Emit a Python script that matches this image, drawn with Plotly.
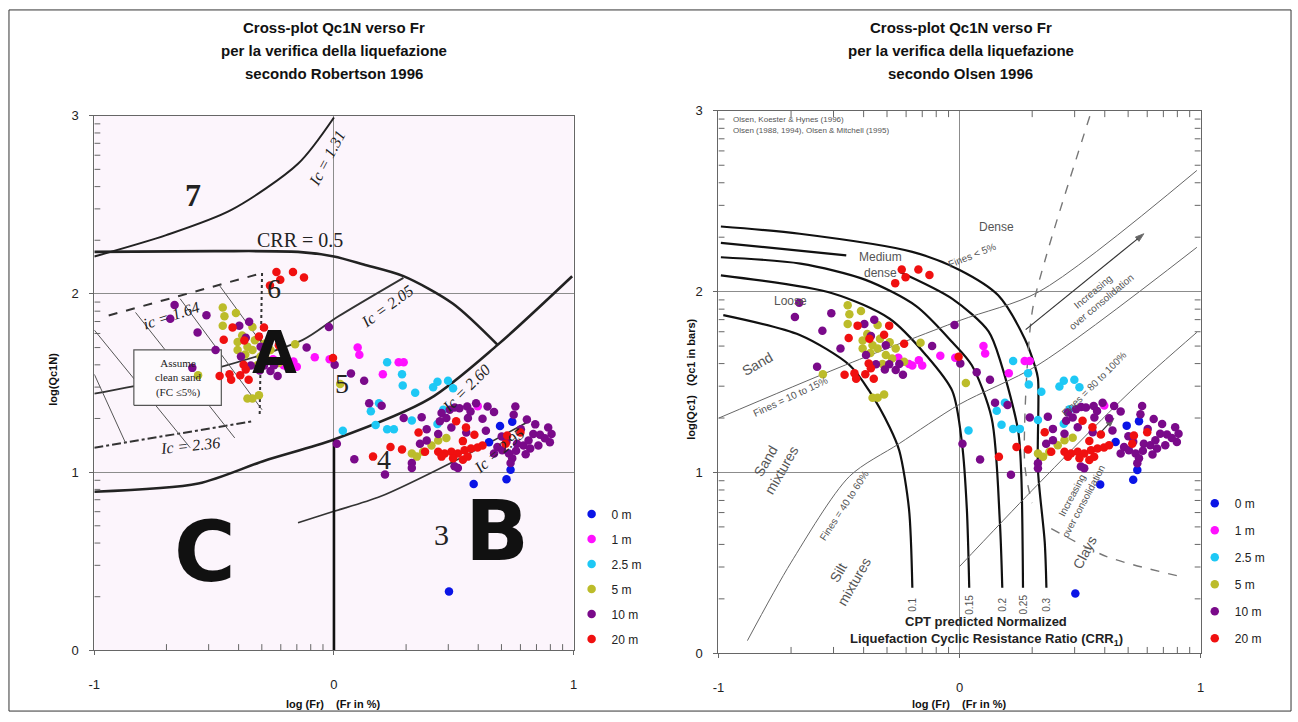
import math
import plotly.graph_objects as go

# ---------------- data (log Fr, log Qc1N) ----------------
series_names = ["0 m", "1 m", "2.5 m", "5 m", "10 m", "20 m"]
series_colors = ["#0a14e6", "#ff10ff", "#1ec8f5", "#bcbc2a", "#7a0a8a", "#f01010"]

x_0m = [0.48, 0.744, 0.693, 0.647, 0.737, 0.720, 0.583]
y_0m = [0.33, 1.283, 1.259, 1.168, 1.014, 0.960, 0.933]

x_1m = [-0.254, -0.196, -0.169, -0.155, -0.21, -0.080, -0.018, 0.099, 0.106, 0.270, 0.291, 0.204, 0.600]
y_1m = [1.634, 1.591, 1.621, 1.591, 1.600, 1.645, 1.634, 1.699, 1.658, 1.616, 1.616, 1.549, 1.370]

x_25m = [0.222, 0.284, 0.287, 0.339, 0.432, 0.414, 0.476, 0.497, 0.154, 0.188, 0.174, 0.222, 0.250,
         0.037, 0.325, 0.456, 0.432]
y_25m = [1.616, 1.549, 1.486, 1.446, 1.507, 1.476, 1.513, 1.471, 1.341, 1.386, 1.264, 1.241, 1.241,
         1.232, 1.290, 1.350, 1.270]

x_5m = [-0.464, -0.409, -0.457, -0.464, -0.340, -0.383, -0.402, -0.361, -0.340, -0.402, -0.306, -0.265,
        -0.230, -0.162, -0.567, -0.361, -0.313, -0.340, 0.026, 0.325, 0.346, 0.372, 0.435, 0.469, 0.407,
        -0.33, -0.29, -0.37, -0.28, -0.32]
y_5m = [1.924, 1.893, 1.875, 1.821, 1.815, 1.766, 1.730, 1.703, 1.685, 1.685, 1.649, 1.685,
        1.612, 1.717, 1.543, 1.413, 1.431, 1.413, 1.495, 1.105, 1.087, 1.114, 1.178, 1.192, 1.150,
        1.74, 1.72, 1.66, 1.63, 1.60]

x_10m = [-0.665, -0.683, -0.532, -0.569, -0.494, -0.591, -0.395, -0.354, -0.368, -0.306, -0.388, -0.347,
         -0.292, -0.265, -0.235, -0.114, -0.021, 0.003, 0.071, -0.31, -0.25,
         0.126, 0.147, 0.199, 0.291, 0.012, 0.085, 0.213, 0.366, 0.387, 0.442, 0.435, 0.483, 0.504,
         0.524, 0.556, 0.593, 0.559, 0.490, 0.359, 0.387, 0.641, 0.668, 0.757, 0.750, 0.634, 0.805,
         0.840, 0.832, 0.894, 0.908, 0.901, 0.764, 0.791, 0.812, 0.819, 0.853, 0.682, 0.702, 0.730,
         0.744, 0.737, 0.668, 0.503, 0.517, 0.325, 0.325, 0.449, 0.469, 0.552,
         0.78, 0.86, 0.70, 0.62, 0.57, 0.72, 0.80, 0.76, 0.88]
y_10m = [1.938, 1.860, 1.880, 1.784, 1.685, 1.585, 1.821, 1.844, 1.754, 1.703, 1.649, 1.598,
         1.598, 1.567, 1.540, 1.699, 1.815, 1.603, 1.554, 1.57, 1.60,
         1.513, 1.386, 1.373, 1.304, 1.159, 1.072, 0.987, 1.308, 1.241, 1.286, 1.214, 1.350, 1.362,
         1.359, 1.368, 1.386, 1.304, 1.250, 1.159, 1.178, 1.368, 1.337, 1.368, 1.322, 1.232, 1.295,
         1.268, 1.214, 1.250, 1.214, 1.168, 1.159, 1.150, 1.178, 1.132, 1.150, 1.141, 1.123, 1.105,
         1.078, 1.051, 1.105, 1.033, 1.023, 1.051, 1.023, 1.332, 1.304, 1.223,
         1.24, 1.21, 1.20, 1.30, 1.34, 1.17, 1.10, 1.12, 1.19]

x_20m = [-0.240, -0.171, -0.125, -0.224, -0.267, -0.423, -0.460, -0.374, -0.313, -0.292, -0.230, -0.377,
         -0.368, -0.477, -0.436, -0.429, -0.391, -0.356, -0.004, 0.353, 0.236, 0.284, 0.163, 0.380,
         0.435, 0.462, 0.490, 0.517, 0.545, 0.572, 0.599, 0.620, 0.449, 0.497, 0.538, 0.558, 0.510,
         0.551, 0.538, 0.586, 0.778, 0.723, 0.716]
y_20m = [2.123, 2.123, 2.092, 2.080, 2.047, 1.812, 1.743, 1.739, 1.761, 1.812, 1.712, 1.603,
         1.576, 1.540, 1.549, 1.518, 1.543, 1.518, 1.640, 1.223, 1.141, 1.127, 1.087, 1.114,
         1.114, 1.105, 1.114, 1.105, 1.123, 1.132, 1.138, 1.150, 1.087, 1.078, 1.069, 1.087, 1.286,
         1.250, 1.174, 1.210, 1.223, 1.205, 1.159]

series_x = [x_0m, x_1m, x_25m, x_5m, x_10m, x_20m]
series_y = [y_0m, y_1m, y_25m, y_5m, y_10m, y_20m]

x_ticks = [-1, 0, 1]
y_ticks = [0, 1, 2, 3]

# ---------------- background chart lines: Robertson (1996) ----------------
rob_ic131_x = [-1, -0.70, -0.43, -0.15, 0.0]
rob_ic131_y = [2.21, 2.33, 2.47, 2.73, 2.99]
rob_crr05_x = [-1, -0.5, -0.15, 0.0, 0.124, 0.29, 0.497, 0.683]
rob_crr05_y = [2.236, 2.24, 2.236, 2.21, 2.165, 2.10, 1.945, 1.714]
rob_ic260_x = [-1, -0.566, -0.29, 0.0, 0.40, 0.683, 0.994]
rob_ic260_y = [0.89, 0.936, 1.064, 1.183, 1.412, 1.714, 2.099]
rob_ic205_x = [-1, -0.5, -0.13, 0.014, 0.29]
rob_ic205_y = [1.44, 1.58, 1.742, 1.87, 2.09]
rob_ic295_x = [-0.15, 0.0, 0.193, 0.5, 0.82]
rob_ic295_y = [0.716, 0.78, 0.863, 1.06, 1.29]
rob_vert_x = [0, 0]
rob_vert_y = [0, 1.183]
rob_ic164_x = [-0.94, -0.30]
rob_ic164_y = [1.879, 2.117]
rob_dot_x = [-0.30, -0.31]
rob_dot_y = [2.117, 1.32]
rob_ic236_x = [-1, -0.345]
rob_ic236_y = [1.137, 1.284]
rob_hatch = [([-1.0, -0.60], [1.797, 1.137]),
             ([-0.828, -0.414], [1.896, 1.192]),
             ([-0.642, -0.30], [1.973, 1.35]),
             ([-0.476, -0.30], [2.044, 1.72]),
             ([-1.0, -0.87], [1.549, 1.165])]
rob_box_x = [-0.835, -0.47, -0.47, -0.835, -0.835]
rob_box_y = [1.375, 1.375, 1.686, 1.686, 1.375]

# ---------------- background chart lines: Olsen (1996) ----------------
ols_crr = {
    "0.3": ([-0.99, -0.663, -0.196, 0.0, 0.16, 0.27, 0.311, 0.325, 0.325, 0.353, 0.36],
            [2.36, 2.32, 2.22, 2.12, 1.98, 1.74, 1.594, 1.52, 1.015, 0.616, 0.362]),
    "0.25": ([-0.99, -0.47, None, -0.25, -0.03, 0.12, 0.174, 0.243, 0.256, 0.263],
             [2.27, 2.20, None, 2.11, 1.96, 1.78, 1.594, 1.23, 0.98, 0.362]),
    "0.2": ([-0.99, -0.66, -0.39, -0.18, -0.03, 0.05, 0.133, 0.167, 0.177],
            [2.19, 2.155, 2.065, 1.92, 1.72, 1.594, 1.30, 0.725, 0.362]),
    "0.15": ([-0.99, -0.525, -0.29, -0.14, -0.03, 0.01, 0.03, 0.04],
             [2.09, 1.99, 1.85, 1.65, 1.45, 1.16, 0.80, 0.362]),
    "0.1": ([-0.98, -0.663, -0.457, -0.374, -0.29, -0.25, -0.21, -0.196],
            [1.87, 1.76, 1.594, 1.45, 1.25, 1.12, 0.80, 0.362]),
}
ols_f1015_x = [-1, -0.5, 0.0, 0.33, 0.984]
ols_f1015_y = [1.30, 1.58, 1.84, 2.0, 2.67]
ols_arrow_x = [0.274, 0.764]
ols_arrow_y = [1.79, 2.32]
ols_arrow2_x = [0.57, 0.64]
ols_arrow2_y = [1.20, 1.30]
ols_f4060_x = [-0.88, -0.7, -0.457, -0.25, 0.0, 0.325, 0.984]
ols_f4060_y = [0.07, 0.5, 0.978, 1.16, 1.377, 1.594, 2.245]
ols_f80100_x = [0.0, 0.3, 0.71, 0.984]
ols_f80100_y = [0.48, 0.90, 1.45, 1.775]
ols_dash_x = [0.54, 0.36, 0.30, 0.27, 0.30]
ols_dash_y = [2.97, 2.2, 1.88, 1.05, 0.83]
ols_dash2_x = [0.38, 0.61, 0.915]
ols_dash2_y = [0.69, 0.535, 0.425]

# log-cycle minor tick positions printed on the background charts
log_minor = [k + math.log10(m) for k in range(0, 3) for m in range(2, 10)]
log_minor_x = [k + math.log10(m) for k in (-1, 0) for m in range(2, 10)]

FONT = "Liberation Sans"
SERIF = "Liberation Serif"

fig = go.Figure()


def line(x, y, ax, color="#222", width=2.0, dash=None, shape="spline"):
    fig.add_trace(go.Scatter(x=x, y=y, mode="lines", xaxis=ax[0], yaxis=ax[1],
                             line=dict(color=color, width=width, dash=dash, shape=shape,
                                       smoothing=0.8),
                             showlegend=False, hoverinfo="skip"))


def tick_marks(ax, sides, color="#666"):
    xs, ys = [], []
    for v in log_minor:
        if "l" in sides:
            xs += [-1, -0.975, None]; ys += [v, v, None]
        if "r" in sides:
            xs += [1, 0.975, None]; ys += [v, v, None]
    for v in log_minor_x:
        if "b" in sides:
            xs += [v, v, None]; ys += [0, 0.035, None]
        if "t" in sides:
            xs += [v, v, None]; ys += [3, 2.965, None]
    line(xs, ys, ax, color=color, width=1, shape="linear")


L = ("x", "y")
R = ("x2", "y2")

# Robertson background
tick_marks(L, "lb")
line(rob_ic131_x, rob_ic131_y, L, width=2)
line(rob_crr05_x, rob_crr05_y, L, width=2.6)
line(rob_ic260_x, rob_ic260_y, L, width=2.6)
line(rob_ic205_x, rob_ic205_y, L, color="#333", width=1.8)
line(rob_ic295_x, rob_ic295_y, L, color="#333", width=1.6)
line(rob_vert_x, rob_vert_y, L, color="#111", width=2.6, shape="linear")
line(rob_ic164_x, rob_ic164_y, L, color="#333", width=2, dash="dash", shape="linear")
line(rob_dot_x, rob_dot_y, L, color="#333", width=2, dash="dot", shape="linear")
line(rob_ic236_x, rob_ic236_y, L, color="#333", width=2, dash="dashdot", shape="linear")
for hx, hy in rob_hatch:
    line(hx, hy, L, color="#555", width=1, shape="linear")
fig.add_trace(go.Scatter(x=rob_box_x, y=rob_box_y, mode="lines", fill="toself",
                         fillcolor="#fdfafd", line=dict(color="#555", width=1.2),
                         xaxis="x", yaxis="y", showlegend=False, hoverinfo="skip"))

# Olsen background
tick_marks(R, "lbrt")
for k, (cx, cy) in ols_crr.items():
    line(cx, cy, R, color="#111", width=2.2)
line(ols_f1015_x, ols_f1015_y, R, color="#666", width=1)
line(ols_f4060_x, ols_f4060_y, R, color="#666", width=1)
line(ols_f80100_x, ols_f80100_y, R, color="#666", width=1)
line(ols_dash_x, ols_dash_y, R, color="#777", width=1.4, dash="dash")
line(ols_dash2_x, ols_dash2_y, R, color="#777", width=1.4, dash="dash")
for axx, axy in ((ols_arrow_x, ols_arrow_y), (ols_arrow2_x, ols_arrow2_y)):
    fig.add_trace(go.Scatter(x=axx, y=axy, mode="lines+markers", xaxis="x2", yaxis="y2",
                             line=dict(color="#333", width=1.2),
                             marker=dict(symbol="arrow", angleref="previous", size=[0, 9],
                                         color="#222"),
                             showlegend=False, hoverinfo="skip"))

# data points on both charts
for i, name in enumerate(series_names):
    for ax, lg, grp in ((L, "legend", "L"), (R, "legend2", "R")):
        fig.add_trace(go.Scatter(
            x=series_x[i], y=series_y[i], mode="markers", name=name,
            xaxis=ax[0], yaxis=ax[1], legend=lg, legendgroup=grp + str(i),
            marker=dict(color=series_colors[i], size=8.5, line=dict(width=0)),
        ))

axis_common = dict(showgrid=True, gridcolor="#8c8c8c", gridwidth=1,
                   showline=True, linecolor="#666", linewidth=1.2, mirror=True,
                   ticks="outside", ticklen=4, tickcolor="#666",
                   tickfont=dict(family=FONT, size=13, color="#222"),
                   zeroline=True, zerolinecolor="#8c8c8c", zerolinewidth=1, fixedrange=True)

fig.update_layout(
    width=1298, height=722, margin=dict(l=0, r=0, t=0, b=0),
    paper_bgcolor="white", plot_bgcolor="white",
    xaxis=dict(axis_common, domain=[89 / 1298, 572 / 1298], range=[-1, 1], tickvals=x_ticks,
               ticktext=[str(v) for v in x_ticks], anchor="y", ticklabelstandoff=18),
    yaxis=dict(axis_common, domain=[1 - 657 / 722, 1 - 111 / 722], range=[0, 3], tickvals=y_ticks,
               anchor="x", ticklabelstandoff=8),
    xaxis2=dict(axis_common, domain=[718 / 1298, 1204 / 1298], range=[-1, 1], tickvals=x_ticks,
                ticktext=[str(v) for v in x_ticks], anchor="y2", ticklabelstandoff=18),
    yaxis2=dict(axis_common, domain=[1 - 660 / 722, 1 - 106 / 722], range=[0, 3], tickvals=y_ticks,
                anchor="x2", ticklabelstandoff=8),
    legend=dict(x=570 / 1298, y=1 - 503 / 722, xanchor="left", yanchor="top",
                font=dict(family=FONT, size=12, color="#222"), tracegroupgap=6,
                bgcolor="rgba(0,0,0,0)", itemclick=False, itemdoubleclick=False),
    legend2=dict(x=1198 / 1298, y=1 - 492 / 722, xanchor="left", yanchor="top",
                 font=dict(family=FONT, size=12, color="#222"), tracegroupgap=8,
                 bgcolor="rgba(0,0,0,0)", itemclick=False, itemdoubleclick=False),
)

# left plot tinted background
fig.add_shape(type="rect", xref="x", yref="y", x0=-1, x1=1, y0=0, y1=3,
              fillcolor="#fcf5fc", line=dict(width=0), layer="below")
# outer frame
fig.add_shape(type="rect", xref="paper", yref="paper", x0=3 / 1298, x1=1295 / 1298,
              y0=1 - 719 / 722, y1=1 - 3 / 722, line=dict(color="#333", width=1))

ann = []


def txt(text, x, y, xref="paper", yref="paper", size=12, color="#111", family=FONT,
        angle=0, xanchor="center", yanchor="middle", bold=False):
    if bold:
        text = "<b>" + text + "</b>"
    ann.append(dict(text=text, x=x, y=y, xref=xref, yref=yref, showarrow=False,
                    font=dict(size=size, color=color, family=family), textangle=angle,
                    xanchor=xanchor, yanchor=yanchor))


# titles
for cx, lines in ((331, ["Cross-plot Qc1N verso Fr", "per la verifica della liquefazione",
                         "secondo Robertson 1996"]),
                  (962, ["Cross-plot Qc1N verso Fr", "per la verifica della liquefazione",
                         "secondo Olsen 1996"])):
    for j, t in enumerate(lines):
        txt(t, cx / 1298, 1 - (21 + 23.5 * j) / 722, size=15, bold=True)

# axis titles
txt("log(Qc1N)", 47 / 1298, 1 - 380 / 722, size=11, angle=-90, bold=True)
txt("log(Qc1)   (Qc1 in bars)", 690 / 1298, 1 - 380 / 722, size=11, angle=-90, bold=True)
txt("log (Fr)    (Fr in %)", 330 / 1298, 1 - 712 / 722, size=11, bold=True)
txt("log (Fr)    (Fr in %)", 960 / 1298, 1 - 712 / 722, size=11, bold=True)

# Robertson labels
kw = dict(xref="x", yref="y", family=SERIF, color="#222")
txt("7", -0.59, 2.555, size=32, bold=True, **kw)
txt("CRR = 0.5", -0.14, 2.30, size=20, **kw)
txt("<i>Ic = 1.31</i>", -0.03, 2.76, size=16, angle=-62, **kw)
txt("6", -0.25, 2.03, size=28, **kw)
txt("<i>ic = 1.64</i>", -0.68, 1.88, size=16, angle=-18, **kw)
txt("<i>Ic = 2.05</i>", 0.22, 1.93, size=16, angle=-36, **kw)
txt("5", 0.035, 1.50, size=28, **kw)
txt("<i>Ic = 2.60</i>", 0.55, 1.47, size=16, angle=-45, **kw)
txt("4", 0.21, 1.07, size=28, **kw)
txt("<i>Ic = 2.95</i>", 0.69, 1.12, size=16, angle=-40, **kw)
txt("3", 0.45, 0.65, size=30, **kw)
txt("<i>Ic = 2.36</i>", -0.60, 1.15, size=16, angle=-6, **kw)
txt("Assume<br>clean sand<br>(FC ≤5%)", -0.65, 1.53, size=11, **kw)
txt("A", -0.25, 1.67, xref="x", yref="y", family="DejaVu Sans", size=58, bold=True, color="#111")
txt("B", 0.68, 0.67, xref="x", yref="y", family="DejaVu Sans", size=84, bold=True, color="#111")
txt("C", -0.54, 0.55, xref="x", yref="y", family="DejaVu Sans", size=84, bold=True, color="#111")

# Olsen labels
kg = dict(xref="x2", yref="y2", color="#555")
txt("Olsen, Koester &amp; Hynes (1996)", -0.95, 2.95, size=8, xanchor="left", **kg)
txt("Olsen (1988, 1994), Olsen &amp; Mitchell (1995)", -0.95, 2.89, size=8, xanchor="left", **kg)
txt("Dense", 0.154, 2.36, size=12, **kg)
txt("Fines < 5%", 0.05, 2.20, size=10, angle=-22, **kg)
txt("Medium<br>dense", -0.33, 2.15, size=12, **kg)
txt("Loose", -0.70, 1.95, size=12, **kg)
txt("Sand", -0.84, 1.60, size=14, angle=-30, **kg)
txt("Fines = 10 to 15%", -0.70, 1.42, size=10, angle=-25, **kg)
txt("Sand<br>mixtures", -0.77, 1.04, size=14, angle=-60, **kg)
txt("Fines = 40 to 60%", -0.48, 0.82, size=10, angle=-57, **kg)
txt("Silt<br>mixtures", -0.47, 0.42, size=14, angle=-60, **kg)
txt("Increasing<br>over consolidation", 0.57, 1.97, size=10, angle=-40, **kg)
txt("Fines = 80 to 100%", 0.56, 1.49, size=10, angle=-45, **kg)
txt("Increasing<br>over consolidation", 0.49, 0.86, size=10, angle=-62, **kg)
txt("Clays", 0.52, 0.56, size=14, angle=-62, **kg)
for k, (cx, cy) in ols_crr.items():
    txt(k, cx[-1], 0.27, size=10, angle=-90, **kg)
txt("CPT predicted Normalized", 0.11, 0.175, size=13, bold=True, xref="x2", yref="y2", color="#222")
txt("Liquefaction Cyclic Resistance Ratio (CRR<sub>1</sub>)", 0.11, 0.075, size=13, bold=True,
    xref="x2", yref="y2", color="#222")

fig.update_layout(annotations=ann)
fig.write_html("out.html")
